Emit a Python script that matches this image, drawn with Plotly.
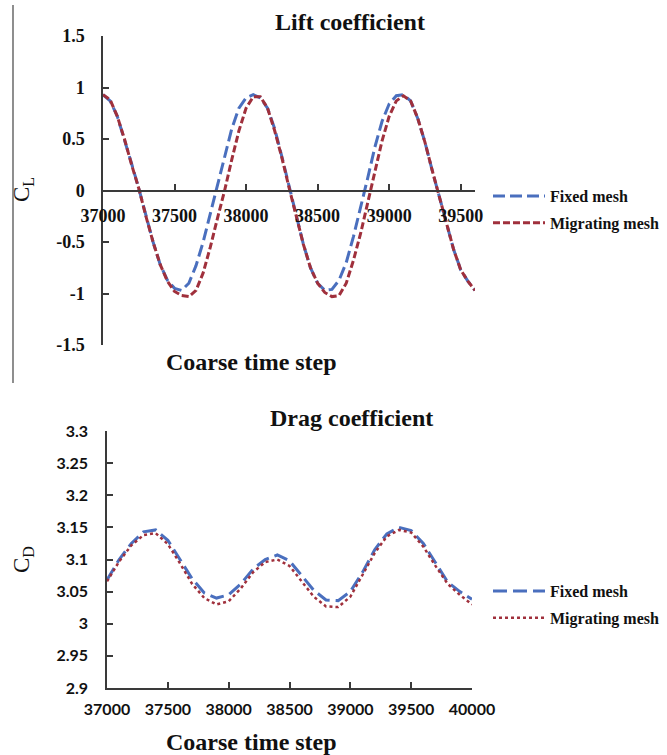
import plotly.graph_objects as go

# ---------------- data ----------------
lift_steps = list(range(37000, 39601, 50))
lift_fixed = [0.93, 0.87, 0.72, 0.50, 0.26, 0.02, -0.25, -0.50, -0.72, -0.87,
              -0.95, -0.97, -0.90, -0.73, -0.50, -0.22, 0.07, 0.35, 0.60, 0.80,
              0.90, 0.93, 0.90, 0.80, 0.60, 0.33, 0.05, -0.24, -0.52, -0.75,
              -0.90, -0.97, -0.96, -0.87, -0.70, -0.45, -0.17, 0.12, 0.42, 0.67,
              0.84, 0.92, 0.93, 0.87, 0.70, 0.47, 0.20, -0.05, -0.32, -0.57,
              -0.77, -0.88, -0.97]
lift_migrating = [0.93, 0.88, 0.72, 0.50, 0.25, 0.02, -0.25, -0.50, -0.72, -0.88,
                  -0.98, -1.02, -1.03, -0.97, -0.80, -0.55, -0.27, 0.00, 0.30, 0.58,
                  0.80, 0.91, 0.91, 0.80, 0.58, 0.32, 0.03, -0.25, -0.52, -0.75,
                  -0.90, -0.99, -1.03, -1.02, -0.90, -0.68, -0.42, -0.12, 0.18, 0.48,
                  0.72, 0.87, 0.92, 0.87, 0.70, 0.47, 0.20, -0.05, -0.32, -0.57,
                  -0.77, -0.88, -0.97]

drag_steps = list(range(37000, 40001, 100))
drag_fixed = [3.068, 3.100, 3.125, 3.143, 3.146, 3.130, 3.100, 3.070, 3.048, 3.040,
              3.045, 3.062, 3.085, 3.100, 3.107, 3.098, 3.075, 3.052, 3.037, 3.036,
              3.050, 3.080, 3.115, 3.140, 3.150, 3.145, 3.125, 3.095, 3.065, 3.050,
              3.038]
drag_migrating = [3.066, 3.097, 3.122, 3.138, 3.141, 3.124, 3.094, 3.062, 3.040, 3.030,
                  3.035, 3.055, 3.080, 3.096, 3.100, 3.090, 3.066, 3.042, 3.027, 3.026,
                  3.042, 3.075, 3.110, 3.136, 3.146, 3.142, 3.120, 3.090, 3.062, 3.045,
                  3.030]

lift_xticks = [37000, 37500, 38000, 38500, 39000, 39500]
lift_yticks = [-1.5, -1, -0.5, 0, 0.5, 1, 1.5]
drag_xticks = [37000, 37500, 38000, 38500, 39000, 39500, 40000]
drag_yticks = [2.9, 2.95, 3.0, 3.05, 3.1, 3.15, 3.2, 3.25, 3.3]

# ---------------- style ----------------
W, H = 667, 755
BLUE = "#4A6FBE"
RED = "#A0303C"
AX = "#3a3a3a"
SERIF = "Liberation Serif"
SANS = "Lato"

def px_x(p):
    return p / W

def px_y(p):
    return (H - p) / H

fig = go.Figure()

fig.add_trace(go.Scatter(x=lift_steps, y=lift_fixed, mode="lines", name="Fixed mesh",
                         line=dict(color=BLUE, width=3, dash="12px,5px"),
                         xaxis="x", yaxis="y", legend="legend", legendgroup="a"))
fig.add_trace(go.Scatter(x=lift_steps, y=lift_migrating, mode="lines", name="Migrating mesh",
                         line=dict(color=RED, width=3, dash="7px,3px"),
                         xaxis="x", yaxis="y", legend="legend", legendgroup="b"))
fig.add_trace(go.Scatter(x=drag_steps, y=drag_fixed, mode="lines", name="Fixed mesh",
                         line=dict(color=BLUE, width=3, dash="14px,6px"),
                         xaxis="x2", yaxis="y2", legend="legend2", legendgroup="c"))
fig.add_trace(go.Scatter(x=drag_steps, y=drag_migrating, mode="lines", name="Migrating mesh",
                         line=dict(color=RED, width=2.5, dash="dot"),
                         xaxis="x2", yaxis="y2", legend="legend2", legendgroup="d"))

top_tickfont = dict(family=SERIF, size=18, color="#111", weight="bold")
bot_tickfont = dict(family=SANS, size=16, color="#111", weight="bold")

top_y0, top_y1 = px_y(345), px_y(36)
bot_y0, bot_y1 = px_y(688), px_y(431)

common = dict(showline=True, linecolor=AX, linewidth=1.5,
              ticks="inside", ticklen=6, tickcolor=AX, tickwidth=1.5,
              showgrid=False, zeroline=False, automargin=False)

legfont = dict(family=SERIF, size=16, color="#111", weight="bold")

fig.update_layout(
    template="none",
    width=W, height=H,
    margin=dict(l=0, r=0, t=0, b=0, pad=0, autoexpand=False),
    paper_bgcolor="white", plot_bgcolor="white",
    xaxis=dict(domain=[px_x(103), px_x(475)], range=[37000, 39600],
               tickvals=lift_xticks, ticktext=[str(v) for v in lift_xticks],
               anchor="free", position=(top_y0 + top_y1) / 2,
               ticklabelstandoff=9, tickfont=top_tickfont, **common),
    yaxis=dict(domain=[top_y0, top_y1], range=[-1.5, 1.5],
               tickvals=lift_yticks, ticktext=["-1.5", "-1", "-0.5", "0", "0.5", "1", "1.5"],
               anchor="x", ticklabelstandoff=13, tickfont=top_tickfont, **common),
    xaxis2=dict(domain=[px_x(107), px_x(472)], range=[37000, 40000],
                tickvals=drag_xticks, ticktext=[str(v) for v in drag_xticks],
                anchor="y2", ticklabelstandoff=6, tickfont=bot_tickfont, **common),
    yaxis2=dict(domain=[bot_y0, bot_y1], range=[2.9, 3.3],
                tickvals=drag_yticks,
                ticktext=["2.9", "2.95", "3", "3.05", "3.1", "3.15", "3.2", "3.25", "3.3"],
                anchor="x2", ticklabelstandoff=14, tickfont=bot_tickfont, **common),
    legend=dict(x=px_x(488), y=px_y(179), xanchor="left", yanchor="top",
                font=legfont, itemwidth=52, traceorder="grouped", tracegroupgap=3,
                bgcolor="rgba(0,0,0,0)", borderwidth=0),
    legend2=dict(x=px_x(488), y=px_y(574), xanchor="left", yanchor="top",
                 font=legfont, itemwidth=52, traceorder="grouped", tracegroupgap=3,
                 bgcolor="rgba(0,0,0,0)", borderwidth=0),
    showlegend=True,
)

ann_font = dict(family=SERIF, size=24, color="#111", weight="bold")

def label(text, x, y, font, angle=0):
    fig.add_annotation(text=text, x=px_x(x), y=px_y(y), xref="paper", yref="paper",
                       xanchor="center", yanchor="middle", showarrow=False,
                       textangle=angle, font=font)

label("Lift coefficient", 350, 22, ann_font)
label("Drag coefficient", 351, 418, ann_font)
label("Coarse time step", 251, 362, ann_font)
label("Coarse time step", 251, 742, ann_font)
label("C<sub>L</sub>", 23, 190, dict(family=SERIF, size=23, color="#111"), -90)
label("C<sub>D</sub>", 23, 560, dict(family=SERIF, size=23, color="#111"), -90)

fig.add_shape(type="line", xref="paper", yref="paper",
              x0=px_x(13), x1=px_x(13), y0=px_y(5), y1=px_y(383),
              line=dict(color="#444", width=1.2))

fig.write_html("out.html", config={"displayModeBar": False},
               post_script="document.body.style.margin='0';document.body.style.overflow='hidden';")
